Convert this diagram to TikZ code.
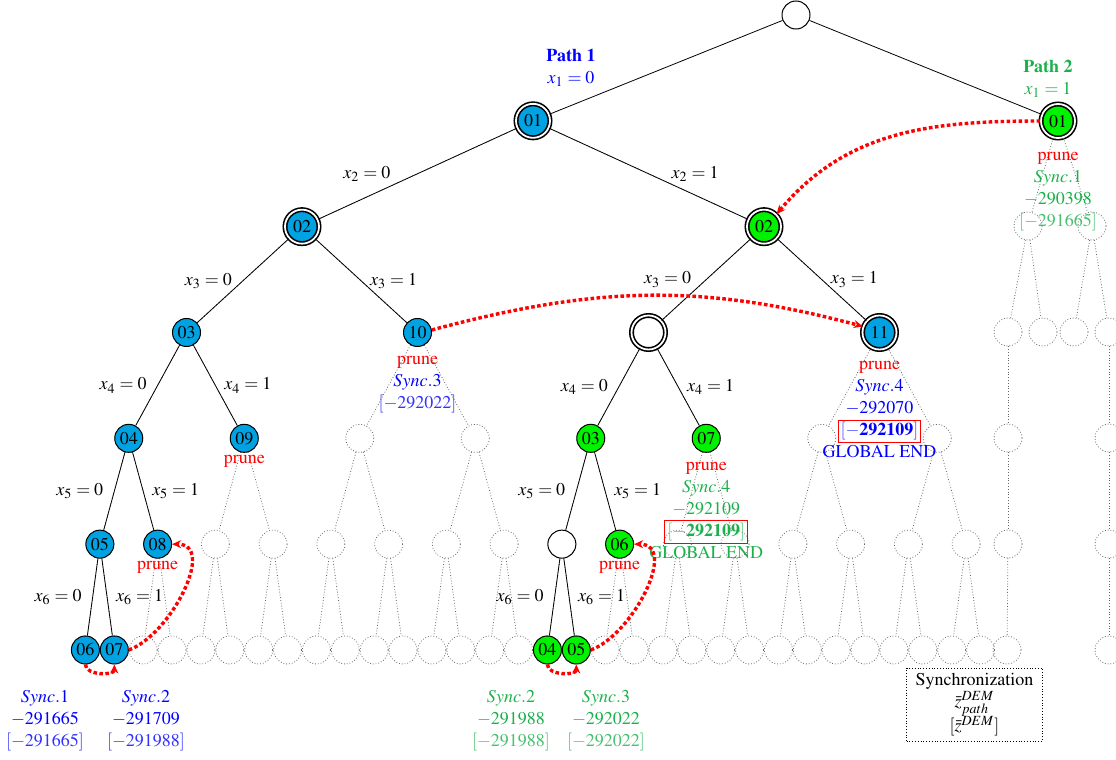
\documentclass[tikz,border=0pt]{standalone}
\usepackage[T1]{fontenc}
\usepackage{mathptmx}
\usepackage{xcolor}
\usepackage{tikz}
\usetikzlibrary{arrows.meta,positioning}
\definecolor{nodeblue}{HTML}{00A2E2}
\definecolor{nodegreen}{HTML}{00F200}
\definecolor{pathgreen}{HTML}{1CB04C}
\newcommand{\bestval}[2]{{\fboxsep=1pt\color{red}\fbox{$\color{#1!75}[-\mathbf{\color{#1}#2}]$}}}
\newcommand{\prune}{\textcolor{red}{prune}}

\begin{document}
\begin{tikzpicture}[
  x=0.5pt, y=0.5pt,
  vtx/.style={circle, draw, fill=white, minimum size=14pt, inner sep=0pt,
              line width=0.5pt, font=\small},
  bnode/.style={vtx, fill=nodeblue},
  gnode/.style={vtx, fill=nodegreen},
  sel/.style={double, double distance=0.9pt, line width=0.8pt, minimum size=17pt},
  ghost/.style={circle, draw=black!60, densely dotted, minimum size=14pt, inner sep=0pt},
  gedge/.style={draw=black!60, densely dotted},
  elbl/.style={midway, font=\small},
  ann/.style={font=\small, align=center, inner sep=1pt},
  sync/.style={red, line width=1.7pt, dash pattern=on 1.8pt off 1.2pt,
               -{Stealth[length=4.5pt, width=4pt]}}
]
  \useasboundingbox (0,0) rectangle (1116,-760);
  \clip (0,0) rectangle (1116,-760);

  % full search tree below Path 1
  \foreach \lv in {1,...,6}{
    \pgfmathtruncatemacro{\nkids}{2^(\lv-1)}
    \pgfmathtruncatemacro{\lastidx}{\nkids-1}
    \pgfmathsetmacro{\stepw}{924/\nkids}
    \foreach \i in {0,...,\lastidx}{
      \pgfmathsetmacro{\xx}{71+(\i+0.5)*\stepw}
      \pgfmathsetmacro{\yy}{-15-105.83*\lv}
      \node[ghost] (g-\lv-\i) at (\xx,\yy) {};
      \ifnum\lv>1
        \pgfmathtruncatemacro{\upl}{\lv-1}
        \pgfmathtruncatemacro{\pidx}{floor(\i/2)}
        \draw[gedge] (g-\upl-\pidx) -- (g-\lv-\i);
      \fi
    }
  }

  % visited nodes
  \node[vtx] (root) at (796,-15) {};
  \node[bnode, sel] (b01) at (g-1-0) {01};
  \node[gnode, sel] (g01) at (1058,-121) {01};
  \node[bnode, sel] (b02) at (g-2-0) {02};
  \node[gnode, sel] (g02) at (g-2-1) {02};
  \node[bnode] (b03) at (g-3-0) {03};
  \node[bnode] (b10) at (g-3-1) {10};
  \node[vtx, sel] (mid) at (g-3-2) {};
  \node[bnode, sel] (b11) at (g-3-3) {11};
  \node[bnode] (b04) at (g-4-0) {04};
  \node[bnode] (b09) at (g-4-1) {09};
  \node[gnode] (gr03) at (g-4-4) {03};
  \node[gnode] (gr07) at (g-4-5) {07};
  \node[bnode] (b05) at (g-5-0) {05};
  \node[bnode] (b08) at (g-5-1) {08};
  \node[vtx] (fork) at (g-5-8) {};
  \node[gnode] (gr06) at (g-5-9) {06};
  \node[bnode] (b06) at (g-6-0) {06};
  \node[bnode] (b07) at (g-6-1) {07};
  \node[gnode] (gr04) at (g-6-16) {04};
  \node[gnode] (gr05) at (g-6-17) {05};

  % unexplored part below Path 2
  \node[ghost] (r2a) at (1028,-226) {};
  \node[ghost] (r2b) at (1092,-226) {};
  \node[ghost] (r3a) at (1008,-332) {};
  \node[ghost] (r3b) at (1043,-332) {};
  \node[ghost] (r3c) at (1074,-332) {};
  \node[ghost] (r3d) at (1109,-332) {};
  \node[ghost] (r4a) at (1008,-438) {};
  \node[ghost] (r5a) at (1008,-544) {};
  \node[ghost] (r6a) at (1007,-650) {};
  \node[ghost] (r4d) at (1109,-438) {};
  \node[ghost] (r5d) at (1109,-544) {};
  \node[ghost] (r6d) at (1109,-650) {};
  \foreach \a/\b in {g01/r2a, g01/r2b, r2a/r3a, r2a/r3b, r2b/r3c, r2b/r3d,
                     r3a/r4a, r4a/r5a, r5a/r6a, r3d/r4d, r4d/r5d, r5d/r6d}
    \draw[gedge] (\a) -- (\b);

  % branches
  \draw (root) -- (b01);
  \draw (root) -- (g01);
  \draw (b01) -- (b02) node[elbl, left=10pt] {$x_2=0$};
  \draw (b01) -- (g02) node[elbl, right=8pt] {$x_2=1$};
  \draw (b02) -- (b03) node[elbl, left=2pt] {$x_3=0$};
  \draw (b02) -- (b10) node[elbl, right=1pt] {$x_3=1$};
  \draw (g02) -- (mid) node[elbl, left=4pt] {$x_3=0$};
  \draw (g02) -- (b11) node[elbl, right=1pt] {$x_3=1$};
  \draw (b03) -- (b04) node[elbl, left=2pt] {$x_4=0$};
  \draw (b03) -- (b09) node[elbl, right=1pt] {$x_4=1$};
  \draw (mid) -- (gr03) node[elbl, left=2pt] {$x_4=0$};
  \draw (mid) -- (gr07) node[elbl, right=1pt] {$x_4=1$};
  \draw (b04) -- (b05) node[elbl, left=2pt] {$x_5=0$};
  \draw (b04) -- (b08) node[elbl, right=1pt] {$x_5=1$};
  \draw (gr03) -- (fork) node[elbl, left=2pt] {$x_5=0$};
  \draw (gr03) -- (gr06) node[elbl, right=1pt] {$x_5=1$};
  \draw (b05) -- (b06) node[elbl, left=2pt] {$x_6=0$};
  \draw (b05) -- (b07) node[elbl, right=1pt] {$x_6=1$};
  \draw (fork) -- (gr04) node[elbl, left=2pt] {$x_6=0$};
  \draw (fork) -- (gr05) node[elbl, right=1pt] {$x_6=1$};

  % path titles
  \node[font=\small, text=blue, align=center] (p1) at (571,-68) {\textbf{Path 1}\\ $x_1=0$};
  \node[font=\small, text=pathgreen, align=center] (p2) at (1048,-79) {\textbf{Path 2}\\ $x_1=1$};

  % notes
  \node[ann, text=pathgreen, below=5.5pt of g01] (g01note)
    {\prune\\ $Sync.1$\\ $-290398$\\ \textcolor{pathgreen!80}{$[-291665]$}};
  \node[ann, text=blue, below=3.5pt of b10] (b10note)
    {\prune\\ $Sync.3$\\ \textcolor{blue!80}{$[-292022]$}};
  \node[ann, text=blue, below=4.5pt of b11] (b11note)
    {\prune\\ $Sync.4$\\ $-292070$\\ \bestval{blue}{292109}\\ GLOBAL END};
  \node[ann, text=pathgreen, below=3.5pt of gr07] (gr07note)
    {\prune\\ $Sync.4$\\ $-292109$\\ \bestval{pathgreen}{292109}\\ GLOBAL END};
  \node[ann, below=0pt of b09] (b09note) {\prune};
  \node[ann, below=0pt of b08] (b08note) {\prune};
  \node[ann, below=0pt of gr06] (gr06note) {\prune};
  \node[ann, text=blue, anchor=north] (b06note) at (45,-688)
    {$Sync.1$\\ $-291665$\\ \textcolor{blue!80}{$[-291665]$}};
  \node[ann, text=blue, anchor=north] (b07note) at (146,-688)
    {$Sync.2$\\ $-291709$\\ \textcolor{blue!80}{$[-291988]$}};
  \node[ann, text=pathgreen, anchor=north] (gr04note) at (511,-688)
    {$Sync.2$\\ $-291988$\\ \textcolor{pathgreen!80}{$[-291988]$}};
  \node[ann, text=pathgreen, anchor=north] (gr05note) at (606,-688)
    {$Sync.3$\\ $-292022$\\ \textcolor{pathgreen!80}{$[-292022]$}};

  % synchronization jumps
  \draw[sync] (g01.west) to[out=180, in=50] (g02.north east);
  \draw[sync] (b10.10) to[out=15, in=165] (b11.160);
  \draw[sync] (b07.east) to[out=20, in=0] (b08.east);
  \draw[sync] (b06.south) to[out=-90, in=-90] (b07.south);
  \draw[sync] (gr05.east) to[out=20, in=0] (gr06.east);
  \draw[sync] (gr04.south) to[out=-90, in=-90] (gr05.south);

  % legend
  \node[draw, densely dotted, align=center, font=\small, minimum width=68pt,
        minimum height=36.5pt, inner sep=2pt] (legend) at (974.5,-704.5)
    {Synchronization\\ $\bar{z}^{DEM}_{path}$\\[-1pt] $[\bar{z}^{DEM}]$};
\end{tikzpicture}
\end{document}
